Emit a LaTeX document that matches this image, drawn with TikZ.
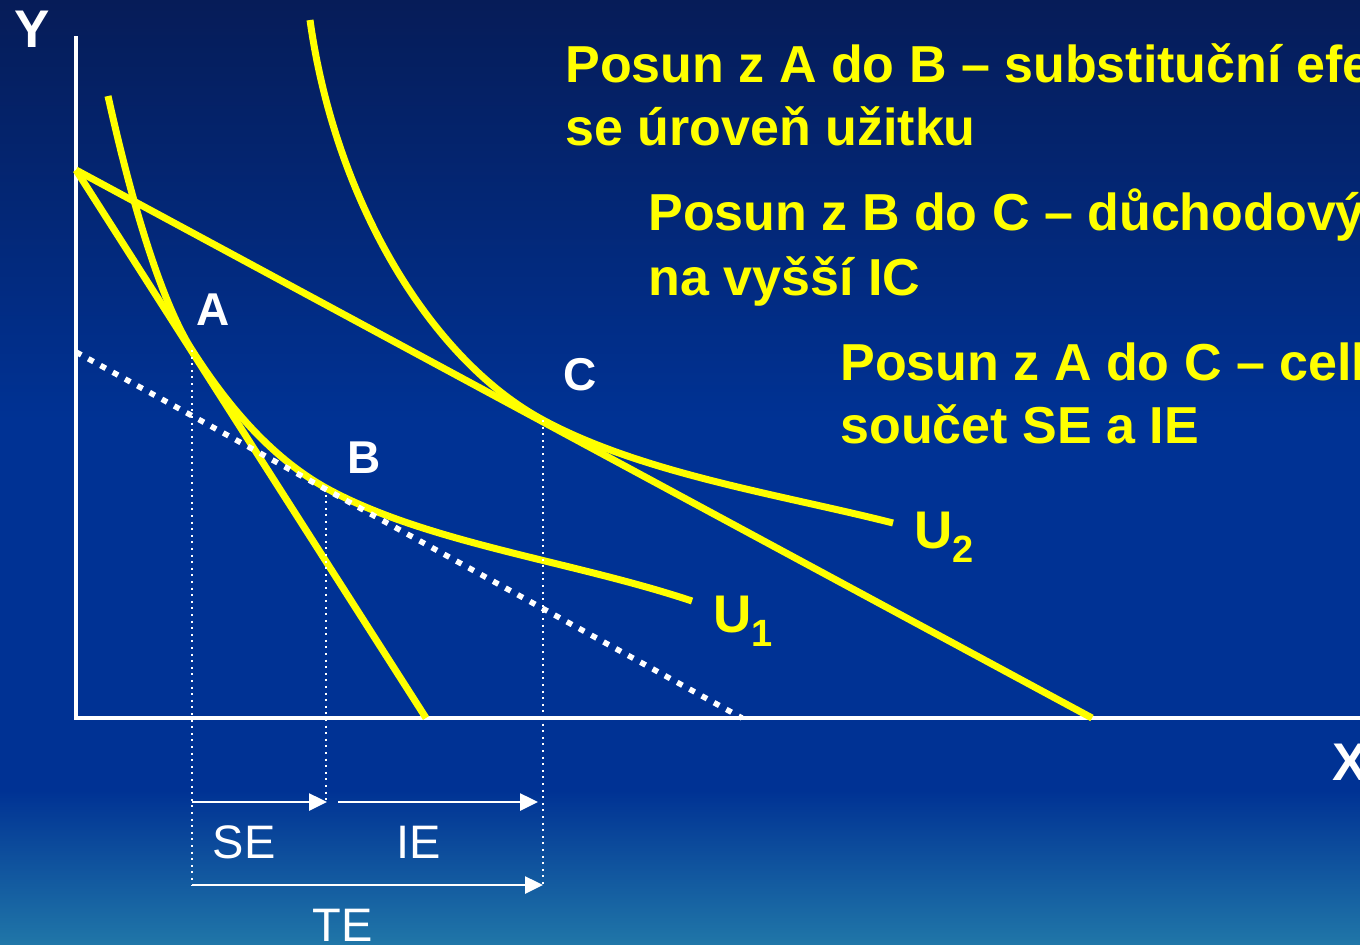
\documentclass[tikz,border=0pt]{standalone}
\usepackage{fontspec}
\setmainfont{Liberation Sans}
\usetikzlibrary{arrows.meta}
\definecolor{cbgtop}{RGB}{6,28,88}
\definecolor{cbgmid}{RGB}{0,50,148}
\definecolor{cbgbot}{RGB}{32,118,168}
\definecolor{cicurve}{RGB}{255,255,0}

\tikzset{
  curve/.style={cicurve, line width=3.5pt},
  axis/.style={white, line width=2.2pt},
  comp/.style={white, line width=2.8pt, dash pattern=on 3pt off 4pt},
  guide/.style={white, line width=1pt, dash pattern=on 1pt off 2.3pt},
  effect/.style={white, line width=1.3pt, -{Triangle[length=9pt,width=8.5pt]}},
  axlab/.style={white, font=\fontsize{26.5}{26.5}\selectfont\bfseries},
  ptlab/.style={white, font=\fontsize{23}{23}\selectfont\bfseries},
  ulab/.style={cicurve, anchor=base west, inner sep=0pt, font=\fontsize{26.5}{26.5}\selectfont\bfseries},
  note/.style={cicurve, anchor=base west, inner sep=0pt, font=\fontsize{26}{26}\selectfont\bfseries},
  efflab/.style={white, font=\fontsize{23.5}{23.5}\selectfont},
}

\begin{document}
\begin{tikzpicture}[x=0.5pt, y=-0.5pt]
  \useasboundingbox (0,0) rectangle (1360,944);
  \clip (0,0) rectangle (1360,944);
  % background
  \shade[top color=cbgtop, bottom color=cbgmid] (0,0) rectangle (1360,420);
  \fill[cbgmid] (0,419) rectangle (1360,791);
  \shade[top color=cbgmid, bottom color=cbgbot] (0,790) rectangle (1360,944);

  % points
  \coordinate (O) at (76,718);
  \coordinate (ytop) at (76,36);
  \coordinate (xend) at (1360,718);
  \coordinate (I) at (76,170);
  \coordinate (I1) at (426,718);
  \coordinate (I2) at (1092,718);
  \coordinate (D0) at (76,352);
  \coordinate (D1) at (742,718);
  \coordinate (A) at (192,350);
  \coordinate (B) at (326,488);
  \coordinate (C) at (543,420);
  \coordinate (lvl1) at (0,802);
  \coordinate (lvl2) at (0,885);

  \draw[axis] (ytop) -- (O) -- (xend);
  \node[axlab] (ylab) at (32,29) {Y};
  \node[axlab] (xlab) at (1350,762) {X};

  % budget lines
  \draw[curve] (I) -- (I1);
  \draw[curve] (I) -- (I2);

  % indifference curves
  \draw[curve] (108,96) .. controls (140,240) and (170,316) .. (A)
    .. controls (232,413) and (276,460) .. (B)
    .. controls (426,543) and (572,561) .. (692,601);
  \draw[curve] (310,20) .. controls (335,200) and (430,359) .. (C)
    .. controls (643,474) and (783,495) .. (893,523);
  \node[ulab] (u1) at (713,632) {U\raisebox{-7pt}{\fontsize{19}{19}\selectfont 1}};
  \node[ulab] (u2) at (914,548) {U\raisebox{-7pt}{\fontsize{19}{19}\selectfont 2}};

  % compensated budget line
  \draw[comp] (D0) -- (D1);

  \node[ptlab] (la) at (213,310) {A};
  \node[ptlab] (lb) at (364,458) {B};
  \node[ptlab] (lc) at (580,375) {C};

  % effects
  \draw[guide] (A) -- (A |- lvl2);
  \draw[guide] (B) -- (B |- lvl1);
  \draw[guide] (C) -- (C |- lvl2);
  \coordinate (se0) at (192,802);
  \coordinate (se1) at (327,802);
  \coordinate (ie0) at (338,802);
  \coordinate (ie1) at (538,802);
  \coordinate (te0) at (192,885);
  \coordinate (te1) at (543,885);
  \draw[effect] (se0) -- (se1);
  \draw[effect] (ie0) -- (ie1);
  \draw[effect] (te0) -- (te1);
  \node[efflab] (se) at (244,842) {SE};
  \node[efflab] (ie) at (419,842) {IE};
  \node[efflab] (te) at (343,925) {TE};

  % notes
  \node[note] (t1a) at (565,82) {Posun z A do B – substituční efekt};
  \node[note] (t1b) at (565,145) {se úroveň užitku};
  \node[note] (t2a) at (648,230) {Posun z B do C – důchodový efekt};
  \node[note] (t2b) at (648,295) {na vyšší IC};
  \node[note] (t3a) at (840,380) {Posun z A do C – celkový efekt};
  \node[note] (t3b) at (840,443) {součet SE a IE};
\end{tikzpicture}
\end{document}
